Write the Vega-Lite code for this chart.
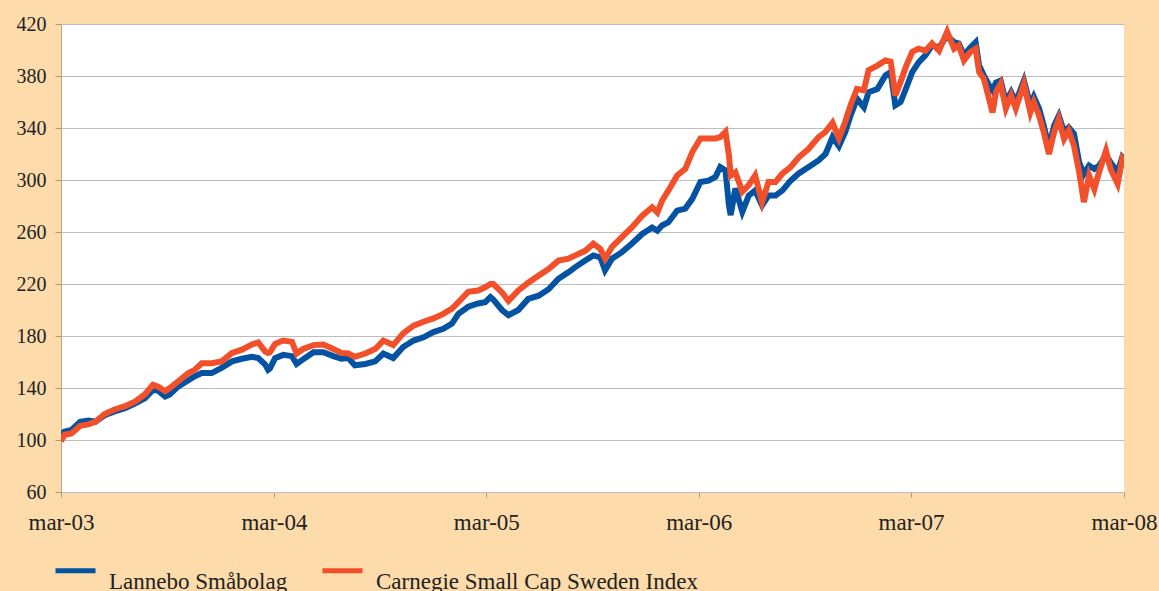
{
  "$schema": "https://vega.github.io/schema/vega-lite/v6.json",
  "width": 1063,
  "height": 468,
  "autosize": {"type": "none"},
  "padding": {"left": 61, "top": 24, "right": 35, "bottom": 99},
  "background": "#FDDBAA",
  "config": {
    "view": {"fill": "#FFFFFF", "stroke": null},
    "font": "Liberation Serif, Times New Roman, Times, serif",
    "axis": {"labelFont": "Liberation Serif, Times New Roman, Times, serif"},
    "legend": {"labelFont": "Liberation Serif, Times New Roman, Times, serif"}
  },
  "data": {
    "values": [
      {"date": "2003-03-01", "lannebo": 102, "carnegie": 99},
      {"date": "2003-03-07", "lannebo": 106.5, "carnegie": 104},
      {"date": "2003-03-19", "lannebo": 107.7, "carnegie": 105},
      {"date": "2003-04-03", "lannebo": 114, "carnegie": 111},
      {"date": "2003-04-17", "lannebo": 115, "carnegie": 112},
      {"date": "2003-04-29", "lannebo": 114, "carnegie": 114},
      {"date": "2003-05-15", "lannebo": 119, "carnegie": 120},
      {"date": "2003-06-01", "lannebo": 122, "carnegie": 123.5},
      {"date": "2003-06-19", "lannebo": 124.5, "carnegie": 126},
      {"date": "2003-07-06", "lannebo": 128, "carnegie": 129.5},
      {"date": "2003-07-23", "lannebo": 132, "carnegie": 135},
      {"date": "2003-08-06", "lannebo": 138.5, "carnegie": 142.5},
      {"date": "2003-08-15", "lannebo": 138, "carnegie": 141},
      {"date": "2003-08-27", "lannebo": 133.5, "carnegie": 137.5},
      {"date": "2003-09-04", "lannebo": 135, "carnegie": 140},
      {"date": "2003-09-18", "lannebo": 141, "carnegie": 145},
      {"date": "2003-10-06", "lannebo": 146, "carnegie": 151.5},
      {"date": "2003-10-17", "lannebo": 149, "carnegie": 154},
      {"date": "2003-10-29", "lannebo": 151.5, "carnegie": 159},
      {"date": "2003-11-15", "lannebo": 151.5, "carnegie": 159},
      {"date": "2003-12-02", "lannebo": 155.5, "carnegie": 160.5},
      {"date": "2003-12-20", "lannebo": 160.5, "carnegie": 167},
      {"date": "2004-01-06", "lannebo": 162.5, "carnegie": 169.5},
      {"date": "2004-01-23", "lannebo": 164, "carnegie": 173.5},
      {"date": "2004-02-03", "lannebo": 163, "carnegie": 175},
      {"date": "2004-02-15", "lannebo": 158, "carnegie": 168},
      {"date": "2004-02-20", "lannebo": 154, "carnegie": 167},
      {"date": "2004-02-23", "lannebo": 155, "carnegie": 167.5},
      {"date": "2004-03-03", "lannebo": 163, "carnegie": 174},
      {"date": "2004-03-17", "lannebo": 165.5, "carnegie": 176.5},
      {"date": "2004-04-01", "lannebo": 164.5, "carnegie": 175.5},
      {"date": "2004-04-09", "lannebo": 158.5, "carnegie": 166.5},
      {"date": "2004-04-20", "lannebo": 162, "carnegie": 170},
      {"date": "2004-05-08", "lannebo": 167.5, "carnegie": 173},
      {"date": "2004-05-25", "lannebo": 167.5, "carnegie": 173.5},
      {"date": "2004-06-11", "lannebo": 164.5, "carnegie": 170},
      {"date": "2004-06-25", "lannebo": 162.5, "carnegie": 167},
      {"date": "2004-07-07", "lannebo": 163, "carnegie": 166.5},
      {"date": "2004-07-18", "lannebo": 157.5, "carnegie": 164},
      {"date": "2004-08-05", "lannebo": 158.5, "carnegie": 166.5},
      {"date": "2004-08-22", "lannebo": 160.5, "carnegie": 170},
      {"date": "2004-09-05", "lannebo": 166.5, "carnegie": 176.5},
      {"date": "2004-09-22", "lannebo": 163, "carnegie": 173},
      {"date": "2004-10-09", "lannebo": 171.5, "carnegie": 182},
      {"date": "2004-10-27", "lannebo": 176.5, "carnegie": 188},
      {"date": "2004-11-13", "lannebo": 179, "carnegie": 191},
      {"date": "2004-11-30", "lannebo": 183, "carnegie": 193.5},
      {"date": "2004-12-17", "lannebo": 185.5, "carnegie": 197},
      {"date": "2005-01-01", "lannebo": 189.5, "carnegie": 201},
      {"date": "2005-01-12", "lannebo": 197, "carnegie": 206},
      {"date": "2005-01-29", "lannebo": 202.5, "carnegie": 214},
      {"date": "2005-02-15", "lannebo": 205, "carnegie": 215},
      {"date": "2005-02-27", "lannebo": 206, "carnegie": 217.5},
      {"date": "2005-03-08", "lannebo": 210, "carnegie": 220},
      {"date": "2005-03-13", "lannebo": 208, "carnegie": 220},
      {"date": "2005-03-28", "lannebo": 200, "carnegie": 213.5},
      {"date": "2005-04-08", "lannebo": 196, "carnegie": 207},
      {"date": "2005-04-25", "lannebo": 200, "carnegie": 215},
      {"date": "2005-05-12", "lannebo": 208.5, "carnegie": 221},
      {"date": "2005-05-30", "lannebo": 211, "carnegie": 226.5},
      {"date": "2005-06-16", "lannebo": 216, "carnegie": 231.5},
      {"date": "2005-07-03", "lannebo": 224, "carnegie": 238},
      {"date": "2005-07-20", "lannebo": 229, "carnegie": 239.5},
      {"date": "2005-08-01", "lannebo": 233, "carnegie": 242},
      {"date": "2005-08-18", "lannebo": 238, "carnegie": 245.5},
      {"date": "2005-09-01", "lannebo": 242, "carnegie": 251},
      {"date": "2005-09-13", "lannebo": 240.5, "carnegie": 247},
      {"date": "2005-09-21", "lannebo": 230.5, "carnegie": 239.5},
      {"date": "2005-10-03", "lannebo": 239.5, "carnegie": 248.5},
      {"date": "2005-10-20", "lannebo": 244.5, "carnegie": 256},
      {"date": "2005-11-06", "lannebo": 251, "carnegie": 263.5},
      {"date": "2005-11-24", "lannebo": 258.5, "carnegie": 272.5},
      {"date": "2005-12-11", "lannebo": 263.5, "carnegie": 279},
      {"date": "2005-12-20", "lannebo": 261, "carnegie": 275},
      {"date": "2005-12-28", "lannebo": 265, "carnegie": 284},
      {"date": "2006-01-08", "lannebo": 267.5, "carnegie": 292},
      {"date": "2006-01-23", "lannebo": 276.5, "carnegie": 303.5},
      {"date": "2006-02-06", "lannebo": 278, "carnegie": 308.5},
      {"date": "2006-02-18", "lannebo": 285.5, "carnegie": 321.5},
      {"date": "2006-03-04", "lannebo": 298.5, "carnegie": 332},
      {"date": "2006-03-18", "lannebo": 299.5, "carnegie": 332},
      {"date": "2006-03-30", "lannebo": 302.5, "carnegie": 332},
      {"date": "2006-04-07", "lannebo": 310, "carnegie": 333},
      {"date": "2006-04-16", "lannebo": 307.5, "carnegie": 337},
      {"date": "2006-04-22", "lannebo": 280.5, "carnegie": 319},
      {"date": "2006-04-25", "lannebo": 273, "carnegie": 303.5},
      {"date": "2006-05-03", "lannebo": 293.5, "carnegie": 306},
      {"date": "2006-05-15", "lannebo": 275.5, "carnegie": 291},
      {"date": "2006-05-26", "lannebo": 288, "carnegie": 296},
      {"date": "2006-06-06", "lannebo": 292, "carnegie": 303.5},
      {"date": "2006-06-18", "lannebo": 280.5, "carnegie": 283},
      {"date": "2006-06-29", "lannebo": 288, "carnegie": 298.5},
      {"date": "2006-07-11", "lannebo": 288, "carnegie": 298.5},
      {"date": "2006-07-23", "lannebo": 292, "carnegie": 305},
      {"date": "2006-08-06", "lannebo": 299.5, "carnegie": 310},
      {"date": "2006-08-20", "lannebo": 305, "carnegie": 317.5},
      {"date": "2006-09-06", "lannebo": 310, "carnegie": 324},
      {"date": "2006-09-23", "lannebo": 315, "carnegie": 333},
      {"date": "2006-10-05", "lannebo": 320, "carnegie": 337},
      {"date": "2006-10-17", "lannebo": 333, "carnegie": 344},
      {"date": "2006-10-28", "lannebo": 326, "carnegie": 332},
      {"date": "2006-11-08", "lannebo": 337, "carnegie": 345},
      {"date": "2006-11-17", "lannebo": 349.5, "carnegie": 357.5},
      {"date": "2006-11-28", "lannebo": 362.5, "carnegie": 370},
      {"date": "2006-12-10", "lannebo": 356, "carnegie": 369},
      {"date": "2006-12-18", "lannebo": 367.5, "carnegie": 384.5},
      {"date": "2007-01-02", "lannebo": 370, "carnegie": 388},
      {"date": "2007-01-16", "lannebo": 380.5, "carnegie": 392},
      {"date": "2007-01-25", "lannebo": 383, "carnegie": 391},
      {"date": "2007-02-02", "lannebo": 357.5, "carnegie": 365},
      {"date": "2007-02-11", "lannebo": 360, "carnegie": 375.5},
      {"date": "2007-02-20", "lannebo": 370, "carnegie": 387},
      {"date": "2007-03-03", "lannebo": 383, "carnegie": 398.5},
      {"date": "2007-03-14", "lannebo": 390.5, "carnegie": 401},
      {"date": "2007-03-26", "lannebo": 396, "carnegie": 399.5},
      {"date": "2007-04-06", "lannebo": 403.5, "carnegie": 405},
      {"date": "2007-04-18", "lannebo": 402, "carnegie": 399.5},
      {"date": "2007-05-02", "lannebo": 411, "carnegie": 414},
      {"date": "2007-05-14", "lannebo": 406, "carnegie": 401},
      {"date": "2007-05-22", "lannebo": 405, "carnegie": 403.5},
      {"date": "2007-05-31", "lannebo": 396, "carnegie": 392},
      {"date": "2007-06-11", "lannebo": 402, "carnegie": 398.5},
      {"date": "2007-06-20", "lannebo": 406, "carnegie": 401},
      {"date": "2007-06-26", "lannebo": 388, "carnegie": 383},
      {"date": "2007-07-04", "lannebo": 380.5, "carnegie": 378},
      {"date": "2007-07-13", "lannebo": 373, "carnegie": 362.5},
      {"date": "2007-07-19", "lannebo": 369, "carnegie": 352},
      {"date": "2007-07-25", "lannebo": 375, "carnegie": 367.5},
      {"date": "2007-08-02", "lannebo": 376.5, "carnegie": 374},
      {"date": "2007-08-11", "lannebo": 360, "carnegie": 355},
      {"date": "2007-08-20", "lannebo": 367.5, "carnegie": 365},
      {"date": "2007-08-28", "lannebo": 360, "carnegie": 355},
      {"date": "2007-09-11", "lannebo": 376.5, "carnegie": 374},
      {"date": "2007-09-22", "lannebo": 357.5, "carnegie": 352},
      {"date": "2007-09-28", "lannebo": 364, "carnegie": 360},
      {"date": "2007-10-07", "lannebo": 355, "carnegie": 349.5},
      {"date": "2007-10-15", "lannebo": 342, "carnegie": 337},
      {"date": "2007-10-24", "lannebo": 325, "carnegie": 320},
      {"date": "2007-11-02", "lannebo": 342, "carnegie": 337},
      {"date": "2007-11-10", "lannebo": 349.5, "carnegie": 347},
      {"date": "2007-11-19", "lannebo": 337, "carnegie": 331.5},
      {"date": "2007-11-27", "lannebo": 340.5, "carnegie": 338},
      {"date": "2007-12-06", "lannebo": 335.5, "carnegie": 326.5},
      {"date": "2007-12-15", "lannebo": 313.5, "carnegie": 306},
      {"date": "2007-12-23", "lannebo": 304.5, "carnegie": 283},
      {"date": "2008-01-01", "lannebo": 311, "carnegie": 303.5},
      {"date": "2008-01-10", "lannebo": 308.5, "carnegie": 293},
      {"date": "2008-01-18", "lannebo": 311, "carnegie": 306},
      {"date": "2008-01-30", "lannebo": 319, "carnegie": 322.5},
      {"date": "2008-02-07", "lannebo": 313.5, "carnegie": 308.5},
      {"date": "2008-02-19", "lannebo": 306, "carnegie": 297},
      {"date": "2008-02-27", "lannebo": 317.5, "carnegie": 316},
      {"date": "2008-03-01", "lannebo": 316, "carnegie": 314}
    ]
  },
  "transform": [{"fold": ["lannebo", "carnegie"], "as": ["series", "value"]}],
  "mark": {"type": "line", "strokeWidth": 6, "strokeCap": "butt", "clip": true},
  "encoding": {
    "x": {
      "field": "date",
      "type": "temporal",
      "scale": {
        "type": "utc",
        "domain": [
          {"year": 2003, "month": 3, "date": 1, "utc": true},
          {"year": 2008, "month": 3, "date": 1, "utc": true}
        ]
      },
      "axis": {
        "title": null,
        "grid": false,
        "values": [
          {"year": 2003, "month": 3, "date": 1, "utc": true},
          {"year": 2004, "month": 3, "date": 1, "utc": true},
          {"year": 2005, "month": 3, "date": 1, "utc": true},
          {"year": 2006, "month": 3, "date": 1, "utc": true},
          {"year": 2007, "month": 3, "date": 1, "utc": true},
          {"year": 2008, "month": 3, "date": 1, "utc": true}
        ],
        "labelExpr": "'mar-' + utcFormat(datum.value, '%y')",
        "labelFont": "Liberation Serif, Times New Roman, Times, serif",
        "labelFontSize": 23,
        "labelColor": "#222222",
        "labelPadding": 14,
        "labelFlush": false,
        "labelOverlap": false,
        "tickSize": 5,
        "tickColor": "#B09878",
        "domainColor": "#BDBDBD",
        "domainWidth": 1
      }
    },
    "y": {
      "field": "value",
      "type": "quantitative",
      "scale": {"domain": [60, 420], "nice": false, "zero": false},
      "axis": {
        "title": null,
        "values": [60, 100, 140, 180, 220, 260, 300, 340, 380, 420],
        "grid": true,
        "gridColor": "#BDBDBD",
        "gridWidth": 1,
        "gridOpacity": 1,
        "labelFont": "Liberation Serif, Times New Roman, Times, serif",
        "labelFontSize": 20,
        "labelColor": "#222222",
        "labelPadding": 9,
        "tickSize": 6,
        "tickColor": "#B09878",
        "domainColor": "#C0A07E",
        "domainWidth": 1
      }
    },
    "color": {
      "field": "series",
      "type": "nominal",
      "scale": {"domain": ["lannebo", "carnegie"], "range": ["#0452A2", "#F2502A"]},
      "legend": {
        "title": null,
        "orient": "none",
        "legendX": -8,
        "legendY": 524,
        "direction": "horizontal",
        "padding": 0,
        "symbolType": "stroke",
        "symbolSize": 1600,
        "symbolStrokeWidth": 5,
        "labelFont": "Liberation Serif, Times New Roman, Times, serif",
        "labelFontSize": 23,
        "labelColor": "#222222",
        "labelLimit": 0,
        "labelOffset": 11,
        "labelBaseline": "top",
        "columnPadding": 24,
        "labelExpr": "datum.label == 'lannebo' ? 'Lannebo Småbolag' : 'Carnegie Small Cap Sweden Index'"
      }
    }
  }
}
